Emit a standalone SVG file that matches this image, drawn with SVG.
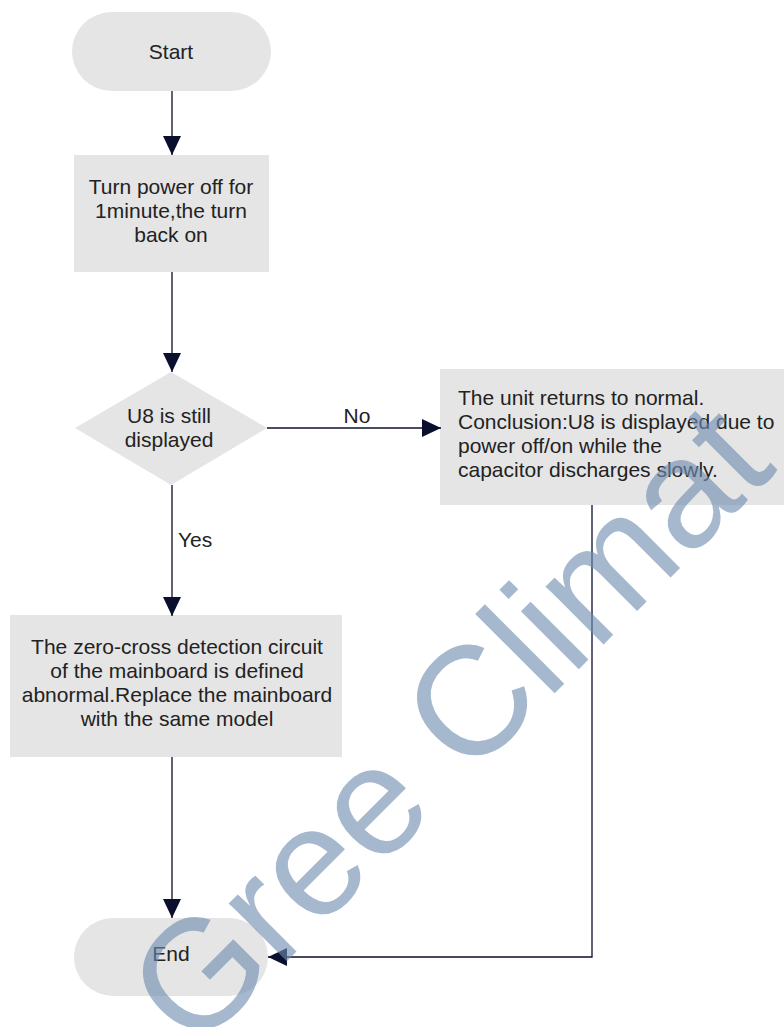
<svg xmlns="http://www.w3.org/2000/svg" width="784" height="1027" viewBox="0 0 784 1027">
<defs>
<style>
.shape{fill:#e5e5e5;stroke:none}
.t{font-family:"Liberation Sans",Arial,Helvetica,sans-serif;font-size:21px;fill:#222}
.c{text-anchor:middle}
.edge{fill:none;stroke:#0b0f2e;stroke-width:1.3}
.wm{font-family:"Liberation Sans",Arial,Helvetica,sans-serif;font-size:155px;fill:#6f8db0;fill-opacity:0.62}
</style>
<marker id="arr" markerUnits="userSpaceOnUse" markerWidth="20" markerHeight="18" refX="19" refY="9" orient="auto">
<path d="M0,0 L19,9 L0,18 Z" fill="#0b0f2e"/>
</marker>
</defs>
<rect width="784" height="1027" fill="#ffffff"/>
<g id="start">
<rect class="shape" x="72" y="12" width="199" height="79" rx="40" ry="40"/>
<text class="t c" x="171" y="59">Start</text>
</g>
<g id="step1">
<rect class="shape" x="74" y="155" width="195" height="117"/>
<text class="t c" x="171" y="194">Turn power off for</text>
<text class="t c" x="171" y="218">1minute,the turn</text>
<text class="t c" x="171" y="242">back on</text>
</g>
<g id="decision">
<polygon class="shape" points="171,372 267,428 171,485 75,428"/>
<text class="t c" x="169" y="423">U8 is still</text>
<text class="t c" x="169" y="447">displayed</text>
</g>
<g id="normal">
<rect class="shape" x="440" y="369" width="344" height="136"/>
<text class="t" x="458" y="405">The unit returns to normal.</text>
<text class="t" x="458" y="429">Conclusion:U8 is displayed due to</text>
<text class="t" x="458" y="453">power off/on while the</text>
<text class="t" x="458" y="477">capacitor discharges slowly.</text>
</g>
<g id="replace">
<rect class="shape" x="10" y="615" width="332" height="142"/>
<text class="t c" x="177" y="654">The zero-cross detection circuit</text>
<text class="t c" x="177" y="678">of the mainboard is defined</text>
<text class="t c" x="177" y="702">abnormal.Replace the mainboard</text>
<text class="t c" x="177" y="726">with the same model</text>
</g>
<g id="end">
<rect class="shape" x="74" y="918" width="194" height="78" rx="39" ry="39"/>
<text class="t c" x="171" y="961">End</text>
</g>
<g id="connectors">
<path class="edge" d="M172,91 L172,155" marker-end="url(#arr)"/>
<path class="edge" d="M172,272 L172,372" marker-end="url(#arr)"/>
<path class="edge" d="M267,428 L441,428" marker-end="url(#arr)"/>
<path class="edge" d="M172,485 L172,616" marker-end="url(#arr)"/>
<path class="edge" d="M172,757 L172,918" marker-end="url(#arr)"/>
<path class="edge" d="M592,505 L592,957 L268,957" marker-end="url(#arr)"/>
<text class="t c" x="357" y="423">No</text>
<text class="t" x="178" y="547">Yes</text>
</g>
<text class="wm" x="194" y="1054" transform="rotate(-45 194 1054)">Gree Climat</text>
</svg>
